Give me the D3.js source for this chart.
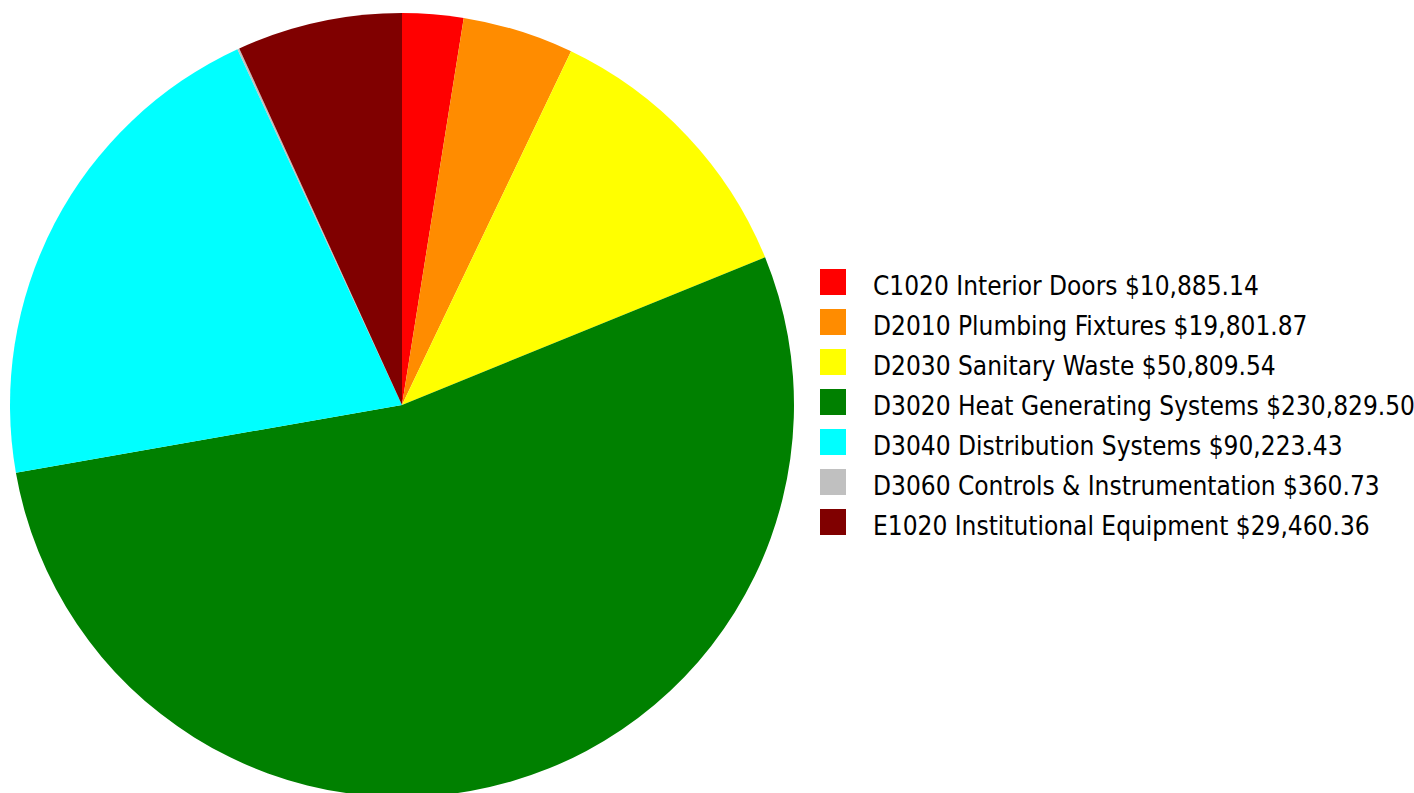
<!DOCTYPE html>
<html>
<head>
<meta charset="utf-8">
<script src="https://cdn.jsdelivr.net/npm/d3@7"></script>
<style>
  html, body { margin: 0; padding: 0; background: #ffffff; }
  svg { display: block; }
  .legend-label { font-family: "DejaVu Sans Condensed", "DejaVu Sans", sans-serif; font-stretch: condensed; }
</style>
</head>
<body>
<svg id="chart" width="1414" height="793"></svg>
<script>
// Cost breakdown by system
const categories = [
  "C1020 Interior Doors",
  "D2010 Plumbing Fixtures",
  "D2030 Sanitary Waste",
  "D3020 Heat Generating Systems",
  "D3040 Distribution Systems",
  "D3060 Controls & Instrumentation",
  "E1020 Institutional Equipment"
];
const values = [10885.14, 19801.87, 50809.54, 230829.50, 90223.43, 360.73, 29460.36];
const colors = ["#ff0000", "#ff8c00", "#ffff00", "#008000", "#00ffff", "#c0c0c0", "#800000"];

const svg = d3.select("#chart");
const cx = 402, cy = 405, radius = 392;

const pie = d3.pie().sort(null).value(d => d);
const arc = d3.arc().innerRadius(0).outerRadius(radius);

svg.append("g")
  .attr("transform", `translate(${cx},${cy})`)
  .selectAll("path")
  .data(pie(values))
  .join("path")
  .attr("d", arc)
  .attr("fill", (d, i) => colors[i]);

const fmt = d3.format(",.2f");
const legend = svg.append("g").attr("transform", "translate(820,269)");
const rows = legend.selectAll("g")
  .data(categories)
  .join("g")
  .attr("transform", (d, i) => `translate(0,${i * 40})`);

rows.append("rect")
  .attr("width", 26).attr("height", 26)
  .attr("fill", (d, i) => colors[i]);

rows.append("text")
  .attr("class", "legend-label")
  .attr("x", 53).attr("y", 26)
  .attr("font-size", 26)
  .attr("fill", "#000")
  .text((d, i) => `${d} $${fmt(values[i])}`);
</script>
</body>
</html>
